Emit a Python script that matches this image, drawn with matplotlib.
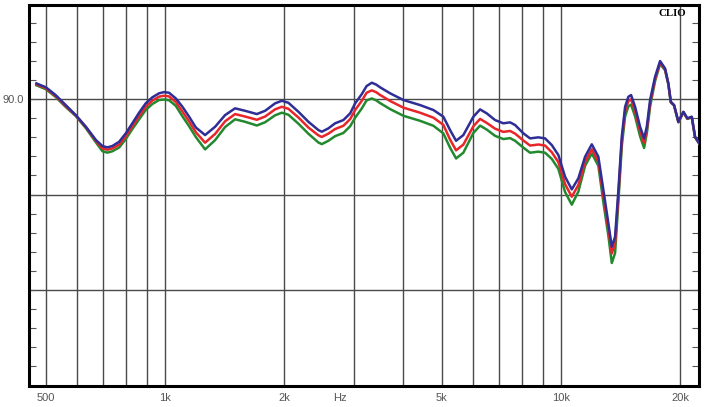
import matplotlib
matplotlib.use("Agg")
import matplotlib.pyplot as plt

# frequency points (Hz) and levels (dB)
freq = [474, 501, 530, 562, 596, 632, 670, 696, 716, 737,
        767, 797, 828, 861, 895, 930, 967, 996, 1025, 1066,
        1108, 1152, 1198, 1264, 1340, 1420, 1505, 1595, 1708, 1792,
        1899, 1975, 2052, 2175, 2305, 2443, 2492, 2589, 2692, 2825,
        2938, 3025, 3144, 3233, 3332, 3417, 3497, 3707, 4004, 4413,
        4769, 5052, 5254, 5440, 5675, 6016, 6255, 6503, 6824, 7162,
        7447, 7667, 8046, 8365, 8778, 9128, 9491, 9861, 10254, 10661,
        11076, 11518, 11976, 12443, 12812, 13190, 13454, 13714, 13981, 14258,
        14536, 14817, 15051, 15405, 15860, 16234, 16490, 16810, 17305, 17816,
        18340, 18695, 18960, 19326, 19817, 20400, 20880, 21420, 21835, 22387]

blue = [91.64, 91.23, 90.42, 89.37, 88.32, 87.10, 85.71, 85.08, 84.94, 85.08,
        85.53, 86.41, 87.46, 88.57, 89.55, 90.18, 90.60, 90.73, 90.66, 90.07,
        89.19, 88.15, 87.02, 86.23, 87.10, 88.32, 89.03, 88.77, 88.43, 88.77,
        89.55, 89.82, 89.61, 88.67, 87.62, 86.75, 86.58, 86.93, 87.46, 87.80,
        88.50, 89.55, 90.52, 91.36, 91.71, 91.52, 91.23, 90.60, 89.90, 89.37,
        88.85, 88.15, 86.75, 85.63, 86.23, 88.15, 88.92, 88.50, 87.80, 87.46,
        87.56, 87.28, 86.41, 85.88, 85.99, 85.88, 85.18, 84.14, 81.86, 80.54,
        81.70, 83.96, 85.26, 83.96, 80.47, 76.98, 74.53, 75.58, 80.47, 86.05,
        89.19, 90.24, 90.42, 89.19, 87.10, 85.88, 87.10, 89.90, 92.34, 93.98,
        93.21, 91.64, 89.72, 89.37, 87.62, 88.67, 87.98, 88.15, 86.05, 85.36]

red = [91.54, 91.13, 90.32, 89.27, 88.27, 87.05, 85.61, 84.83, 84.69, 84.83,
       85.23, 86.11, 87.16, 88.22, 89.20, 89.83, 90.25, 90.35, 90.28, 89.69,
       88.69, 87.65, 86.52, 85.43, 86.35, 87.67, 88.43, 88.17, 87.83, 88.17,
       88.92, 89.19, 88.98, 88.07, 87.02, 86.20, 86.03, 86.38, 86.86, 87.20,
       87.90, 88.85, 89.82, 90.66, 90.91, 90.72, 90.43, 89.80, 89.10, 88.57,
       88.05, 87.30, 85.75, 84.63, 85.23, 87.15, 87.92, 87.50, 86.90, 86.56,
       86.66, 86.38, 85.66, 85.13, 85.24, 85.13, 84.43, 83.39, 81.09, 79.77,
       81.00, 83.44, 84.74, 83.44, 79.87, 76.38, 73.83, 74.88, 79.92, 85.60,
       88.74, 89.79, 89.97, 88.74, 86.65, 85.43, 86.75, 89.55, 92.09, 93.83,
       93.11, 91.57, 89.69, 89.34, 87.59, 88.64, 87.95, 88.12, 86.02, 85.33]

green = [91.44, 91.03, 90.22, 89.17, 88.22, 86.95, 85.46, 84.53, 84.39, 84.53,
         84.93, 85.81, 86.86, 87.87, 88.85, 89.48, 89.90, 89.95, 89.88, 89.29,
         88.19, 87.15, 86.02, 84.73, 85.70, 87.07, 87.88, 87.62, 87.23, 87.57,
         88.30, 88.57, 88.36, 87.42, 86.37, 85.45, 85.28, 85.63, 86.11, 86.45,
         87.15, 88.05, 89.02, 89.86, 90.06, 89.87, 89.58, 88.95, 88.25, 87.72,
         87.20, 86.40, 84.90, 83.78, 84.38, 86.45, 87.22, 86.80, 86.15, 85.81,
         85.91, 85.63, 84.91, 84.38, 84.49, 84.38, 83.73, 82.69, 80.26, 78.94,
         80.30, 83.01, 84.31, 83.01, 79.17, 75.68, 72.83, 73.88, 79.27, 85.05,
         88.19, 89.24, 89.42, 88.19, 86.10, 84.88, 86.40, 89.20, 91.89, 93.68,
         93.01, 91.52, 89.66, 89.31, 87.56, 88.61, 87.92, 88.09, 85.99, 85.30]

grid_x = [500, 600, 700, 800, 900, 1000, 2000, 3000, 4000, 5000,
          6000, 7000, 8000, 9000, 10000, 20000]
grid_y = [70, 80, 90]
xtick_pos = [500, 1000, 2000, 2770, 5000, 10000, 20000]
xtick_lab = ["500", "1k", "2k", "Hz", "5k", "10k", "20k"]

fig = plt.figure(figsize=(7.05, 4.07), dpi=100)
ax = fig.add_axes([29 / 705, 1 - 386 / 407, 670 / 705, 381 / 407])
ax.set_xscale("log")
ax.set_xlim(454, 22340)
ax.set_ylim(59.95, 99.85)

for g in grid_x:
    ax.axvline(g, color="#4a4a4a", lw=1.0, zorder=1)
for g in grid_y:
    ax.axhline(g, color="#4a4a4a", lw=1.0, zorder=1)

ax.plot(freq, green, color="#23892f", lw=1.8, zorder=3, solid_joinstyle="round")
ax.plot(freq, red, color="#e8262a", lw=1.8, zorder=4, solid_joinstyle="round")
ax.plot(freq, blue, color="#2e2e96", lw=1.8, zorder=5, solid_joinstyle="round")

ax.set_xticks(xtick_pos)
ax.set_xticklabels(xtick_lab)
ax.xaxis.set_minor_locator(matplotlib.ticker.NullLocator())
ax.tick_params(axis="x", length=0, pad=5, labelsize=8, labelcolor="#555555")

yt = list(range(60, 100, 2))
ax.set_yticks(yt)
ax.set_yticklabels(["90.0" if v == 90 else "" for v in yt])
ax.tick_params(axis="y", direction="in", length=5, width=0.8, color="#555555",
               left=True, right=True, labelsize=8, labelcolor="#555555", pad=4)

for lab in ax.get_xticklabels() + ax.get_yticklabels():
    lab.set_fontfamily("Liberation Sans")

for s in ax.spines.values():
    s.set_linewidth(2.2)
    s.set_color("black")

fig.text(672 / 705, 1 - 13.7 / 407, "CLIO", ha="center", va="center",
         fontsize=7.8, fontweight="bold", family="Liberation Serif")

fig.savefig("out.png", dpi=100)
